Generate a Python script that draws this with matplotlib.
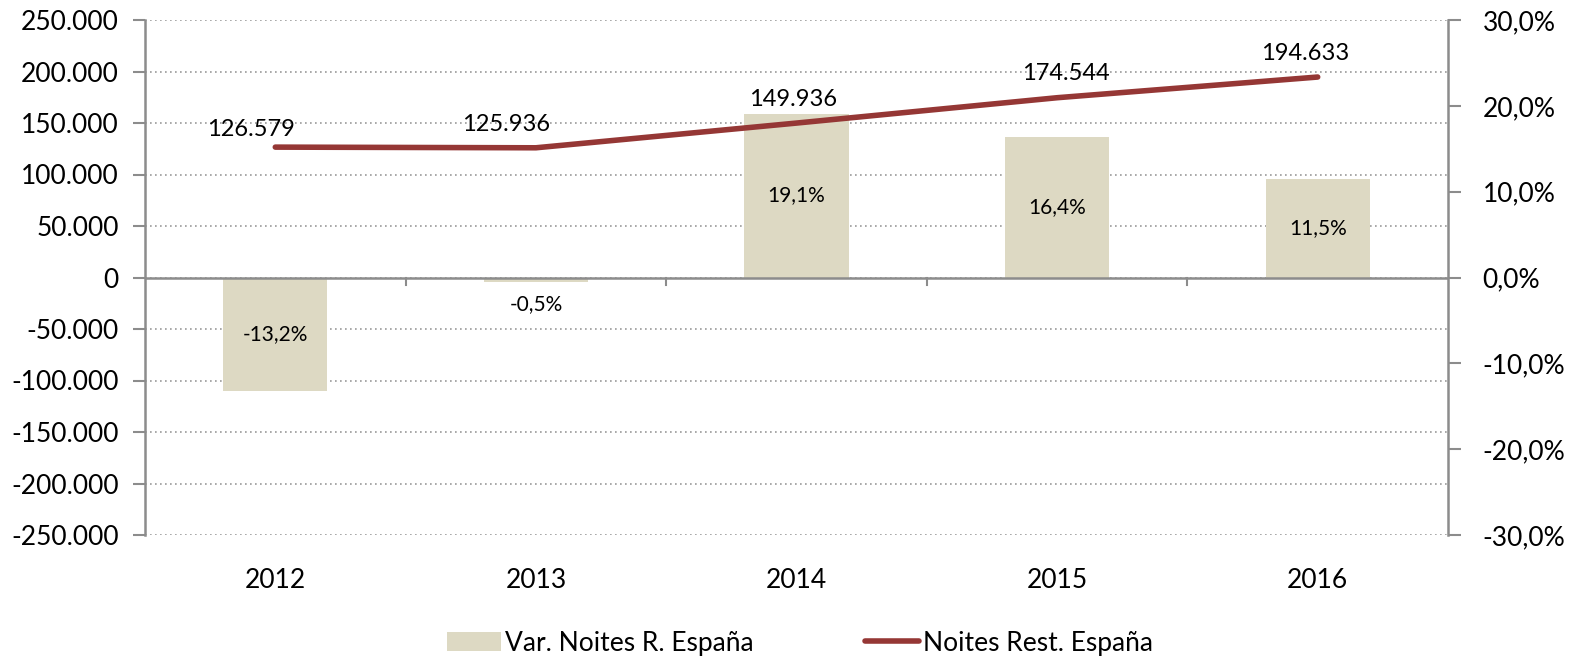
import matplotlib
matplotlib.use("Agg")
import matplotlib.pyplot as plt
from matplotlib.lines import Line2D
from matplotlib.patches import Patch
import numpy as np

years = ["2012", "2013", "2014", "2015", "2016"]
var_pct = [-13.2, -0.5, 19.1, 16.4, 11.5]
noites = [126579, 125936, 149936, 174544, 194633]
var_labels = ["-13,2%", "-0,5%", "19,1%", "16,4%", "11,5%"]
noites_labels = ["126.579", "125.936", "149.936", "174.544", "194.633"]
left_ticks = [-250000, -200000, -150000, -100000, -50000, 0, 50000, 100000, 150000, 200000, 250000]
left_ticklabels = ["-250.000", "-200.000", "-150.000", "-100.000", "-50.000", "0",
                   "50.000", "100.000", "150.000", "200.000", "250.000"]
right_ticks = [-30, -20, -10, 0, 10, 20, 30]
right_ticklabels = ["-30,0%", "-20,0%", "-10,0%", "0,0%", "10,0%", "20,0%", "30,0%"]

# label nudges (pixels), style only
label_dx = [-24, -30, -3, 9, -13]
label_dy = [18, 23, 24, 24, 24]

FONT = "Lato"
plt.rcParams["font.family"] = [FONT, "DejaVu Sans"]
BAR_C = "#DDD9C3"
LINE_C = "#953735"
AX_C = "#8C8C8C"

fig = plt.figure(figsize=(15.72, 6.6), dpi=100)
ax = fig.add_axes([145/1572, 1-535/660, (1448-145)/1572, (535-20)/660])
ax2 = ax.twinx()

x = np.arange(len(years))
ax2.bar(x, var_pct, width=0.40, color=BAR_C, zorder=2)
ax2.set_ylim(-30, 30)
ax2.set_yticks(right_ticks)
ax2.set_yticklabels(right_ticklabels, fontsize=19)
ax2.tick_params(axis="y", direction="out", length=9, width=1.5, color=AX_C, pad=16)

for xi, v, lab in zip(x, var_pct, var_labels):
    if abs(v) < 3:
        ax2.annotate(lab, (xi, v), xytext=(0, -22), textcoords="offset pixels",
                     ha="center", va="center", fontsize=15, zorder=6)
    else:
        ax2.text(xi, v/2, lab, ha="center", va="center", fontsize=15, zorder=6)

ax2.axhline(0, color=AX_C, lw=1.8, zorder=4)
for b in x[:-1] + 0.5:
    ax2.plot([b, b], [0, -0.85], color=AX_C, lw=1.5, zorder=4, clip_on=False)

ax.set_zorder(ax2.get_zorder() + 1)
ax.patch.set_visible(False)
ax.plot(x, noites, color=LINE_C, lw=4, solid_capstyle="round", zorder=5)
ax.set_ylim(-250000, 250000)
ax.set_yticks(left_ticks)
ax.set_yticklabels(left_ticklabels, fontsize=19)
ax.tick_params(axis="y", direction="out", length=9, width=1.5, color=AX_C, pad=10)
ax.set_xlim(-0.5, len(years) - 0.5)
ax2.set_xlim(-0.5, len(years) - 0.5)
ax.set_xticks(x)
ax.set_xticklabels(years, fontsize=19)
ax.tick_params(axis="x", length=0, pad=24)
ax2.tick_params(axis="x", length=0)

for xi, v, lab, dx, dy in zip(x, noites, noites_labels, label_dx, label_dy):
    ax.annotate(lab, (xi, v), xytext=(dx, dy), textcoords="offset pixels",
                ha="center", va="center", fontsize=17, zorder=6)

for t in left_ticks:
    ax2.axhline(t / 250000 * 30, color="#9A9A9A", lw=1.2, ls=(0, (1, 2)), zorder=1)

for a in (ax, ax2):
    for s in ["top", "bottom"]:
        a.spines[s].set_visible(False)
ax.spines["right"].set_visible(False)
ax2.spines["left"].set_visible(False)
ax.spines["left"].set_color(AX_C)
ax.spines["left"].set_linewidth(1.8)
ax2.spines["right"].set_color(AX_C)
ax2.spines["right"].set_linewidth(1.8)

handles = [Patch(facecolor=BAR_C, edgecolor="none"),
           Line2D([0], [0], color=LINE_C, lw=4, solid_capstyle="round")]
fig.legend(handles, ["Var. Noites R. España", "Noites Rest. España"],
           loc="center", bbox_to_anchor=(800/1572, 1-643/660), ncol=2, frameon=False,
           fontsize=19, handlelength=2.05, handletextpad=0.15, columnspacing=4.2)

fig.savefig("out.png", dpi=100)
